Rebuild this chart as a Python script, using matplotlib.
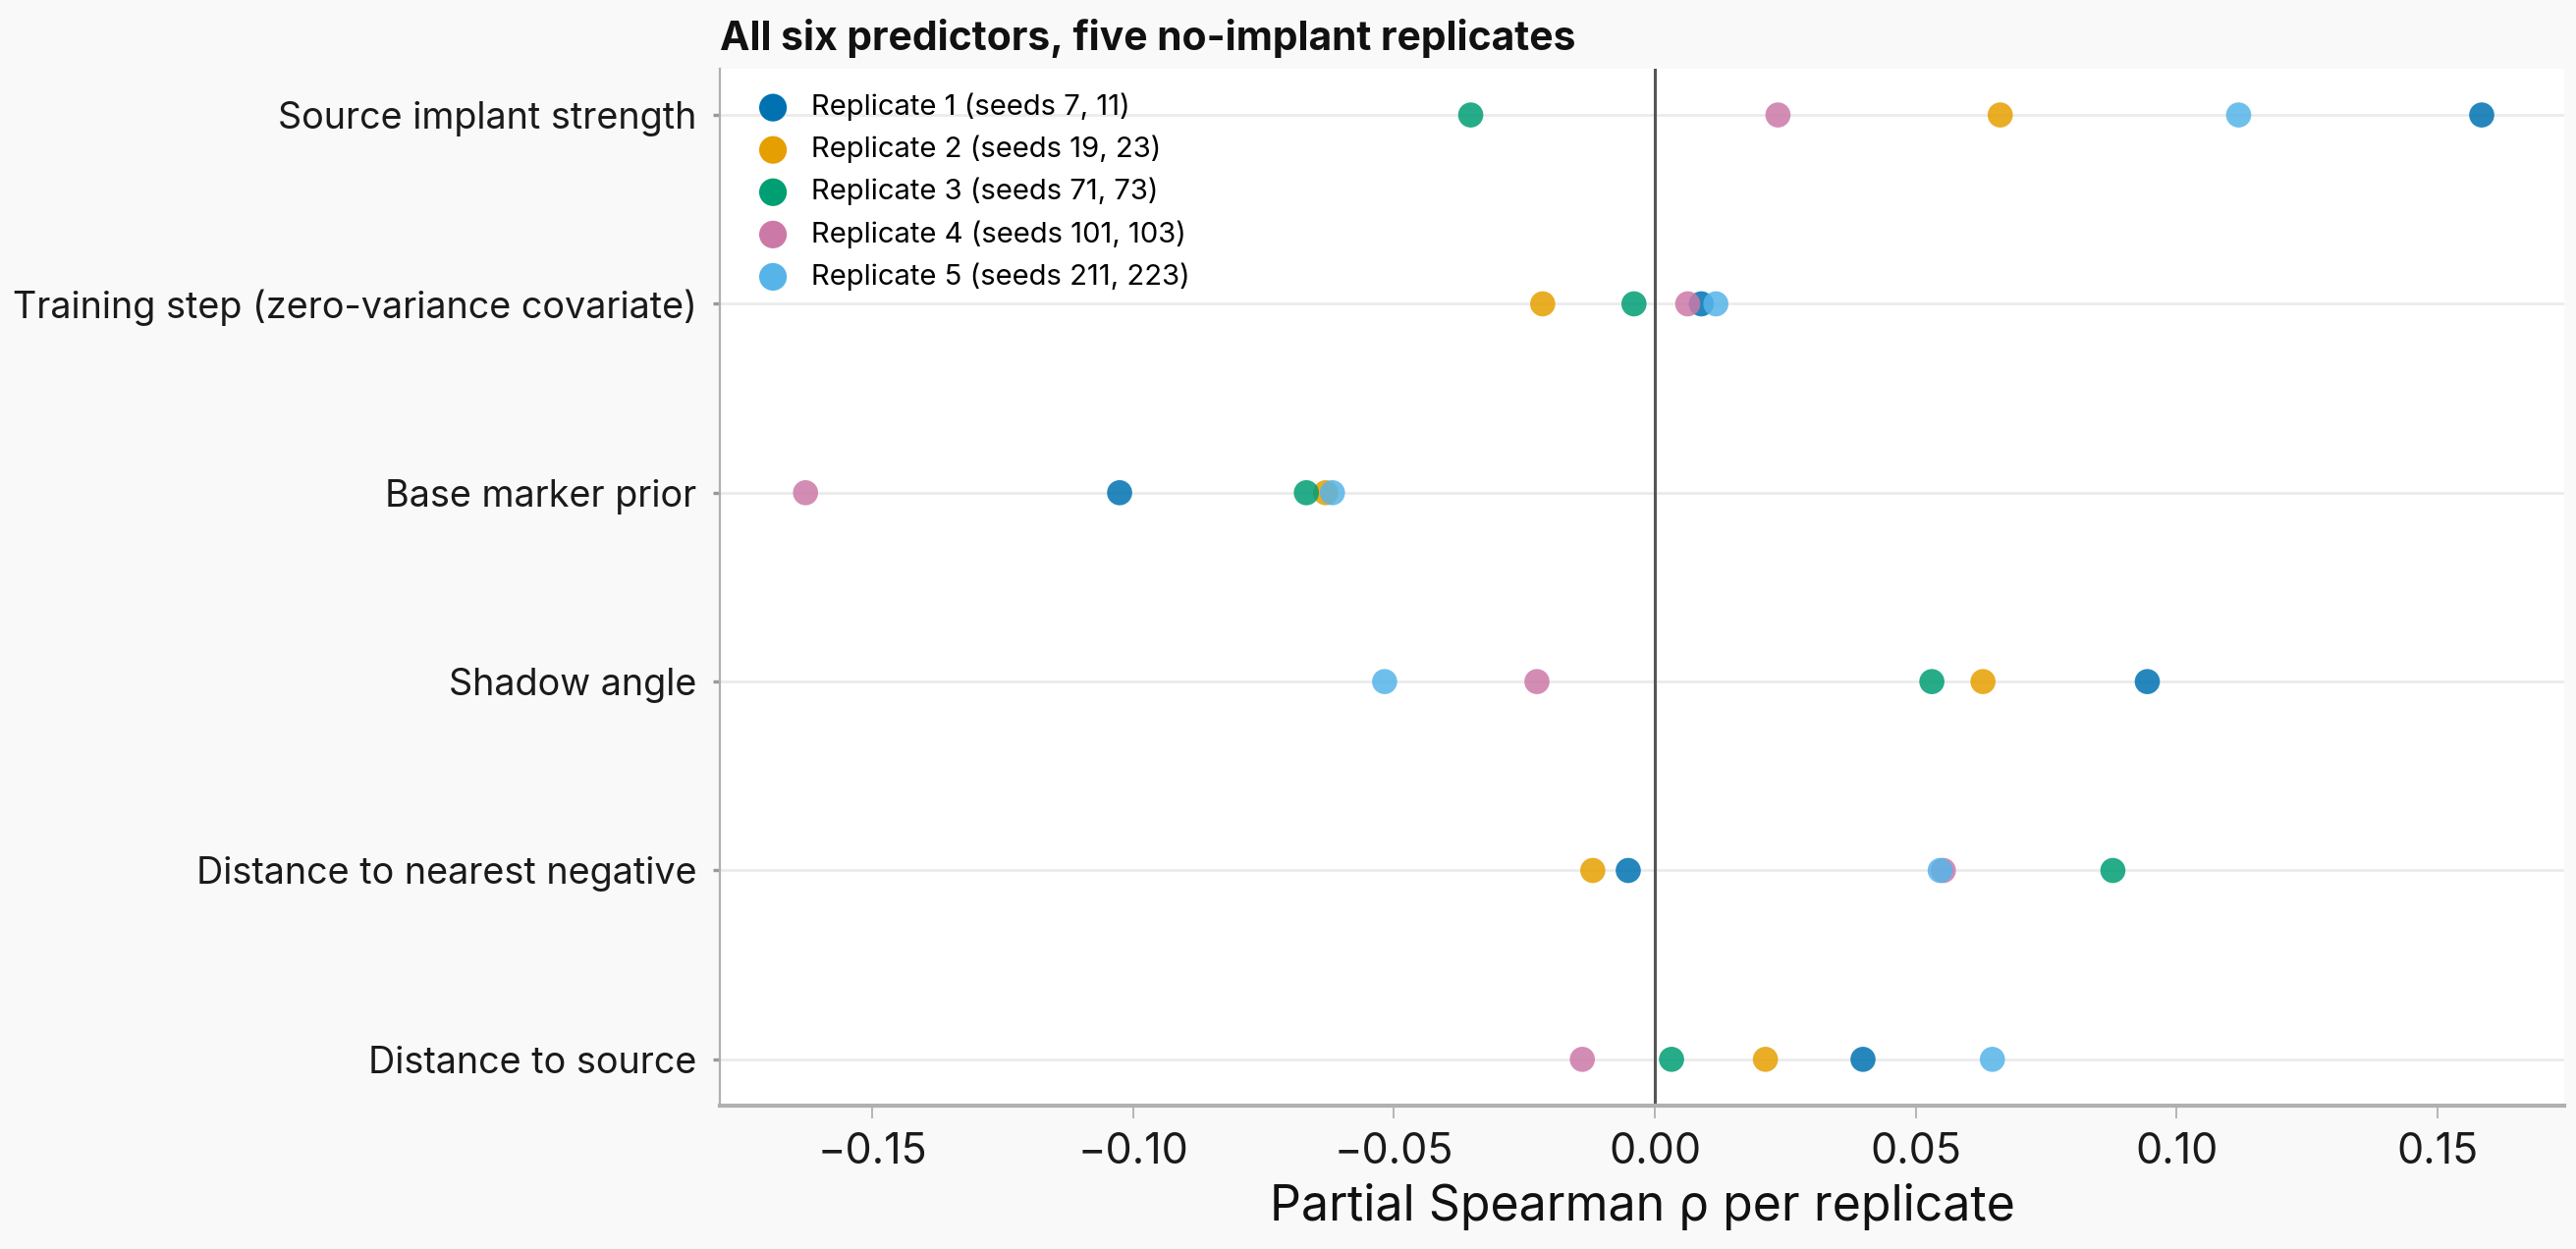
import numpy as np
import matplotlib
matplotlib.use("Agg")
import matplotlib.pyplot as plt

plt.rcParams['font.family'] = ['Inter', 'DejaVu Sans']

# predictors, top to bottom
predictors = [
    'Source implant strength',
    'Training step (zero-variance covariate)',
    'Base marker prior',
    'Shadow angle',
    'Distance to nearest negative',
    'Distance to source',
]

replicate_labels = [
    'Replicate 1 (seeds 7, 11)',
    'Replicate 2 (seeds 19, 23)',
    'Replicate 3 (seeds 71, 73)',
    'Replicate 4 (seeds 101, 103)',
    'Replicate 5 (seeds 211, 223)',
]

# partial Spearman rho, one list per replicate, in predictor order
rep1 = [0.1585, 0.0089, -0.1026, 0.0944, -0.0051, 0.0399]
rep2 = [0.0662, -0.0215, -0.0631, 0.0629, -0.0119, 0.0212]
rep3 = [-0.0353, -0.0040, -0.0668, 0.0531, 0.0878, 0.0032]
rep4 = [0.0236, 0.0063, -0.1628, -0.0226, 0.0553, -0.0139]
rep5 = [0.1119, 0.0117, -0.0618, -0.0518, 0.0547, 0.0647]

# Okabe-Ito colours
colors = ['#0072B2', '#E69F00', '#009E73', '#CC79A7', '#56B4E9']

fig = plt.figure(figsize=(2623 / 200, 1272 / 200), dpi=200, facecolor='#f9f9f9')
ax = fig.add_axes([0.2795, 0.1148, 0.7159, 0.8302])
ax.set_facecolor('white')

ypos = np.arange(len(predictors))
for y in ypos:
    ax.axhline(y, color='#ebebeb', lw=1.0, zorder=0)
ax.axvline(0, color='#555555', lw=1.1, zorder=1)

for vals, lab, col in zip([rep1, rep2, rep3, rep4, rep5], replicate_labels, colors):
    ax.scatter(vals, ypos, s=85, color=col, alpha=0.85, edgecolors='none',
               label=lab, zorder=3)

ax.set_yticks(ypos)
ax.set_yticklabels(predictors, fontsize=13.6, color='#1a1a1a')
ax.set_ylim(len(predictors) - 1 + 0.245, -0.245)
ax.set_xlim(-0.1792, 0.1743)
ax.set_xticks([-0.15, -0.10, -0.05, 0.0, 0.05, 0.10, 0.15])
ax.set_xticklabels(['\u22120.15', '\u22120.10', '\u22120.05', '0.00', '0.05', '0.10', '0.15'])
ax.tick_params(axis='x', labelsize=15.5, length=4.7, width=0.6, color='#aaaaaa',
               pad=5, labelcolor='#1a1a1a')
ax.tick_params(axis='y', length=2.5, width=1.2, color='#999999', pad=6)

for side in ['top', 'right']:
    ax.spines[side].set_visible(False)
ax.spines['left'].set_color('#b0b0b0')
ax.spines['left'].set_linewidth(0.8)
ax.spines['bottom'].set_color('#b0b0b0')
ax.spines['bottom'].set_linewidth(1.5)

ax.set_xlabel('Partial Spearman \u03c1 per replicate', fontsize=18, color='#111111', labelpad=4)
ax.set_title('All six predictors, five no-implant replicates', loc='left',
             fontsize=14.7, fontweight='bold', color='#111111', pad=7)

leg = ax.legend(loc='upper left', frameon=False, fontsize=10.5, handletextpad=0.35,
                borderaxespad=0.45, labelspacing=0.5, scatterpoints=1, markerscale=1.1)
for h in leg.legend_handles:
    h.set_alpha(1.0)

fig.savefig('out.png', dpi=200, facecolor=fig.get_facecolor())
